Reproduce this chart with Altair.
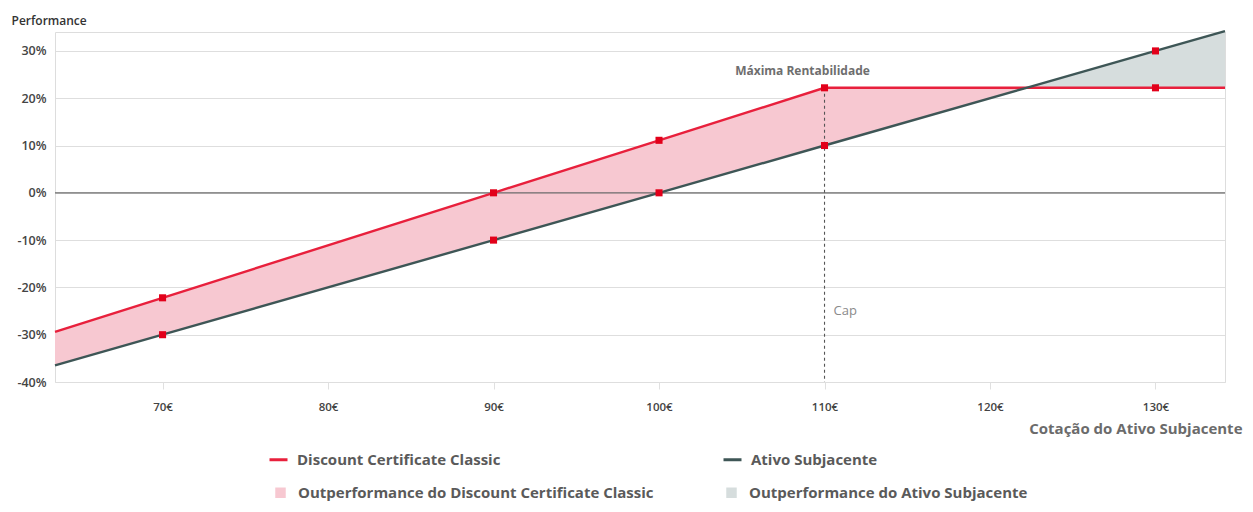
import altair as alt
import pandas as pd

# ---- data ----
price = [63.5, 70, 90, 100, 110, 122.2, 130, 134.2]
cert_perf = [-29.4, -22.2, 0.0, 11.1, 22.2, 22.2, 22.2, 22.2]
under_perf = [-36.5, -30.0, -10.0, 0.0, 10.0, 22.2, 30.0, 34.2]

marker_price = [70, 70, 90, 90, 100, 100, 110, 110, 130, 130]
marker_perf = [-22.2, -30.0, 0.0, -10.0, 11.1, 0.0, 22.2, 10.0, 22.2, 30.0]

cap_price = 110
cap_perf = 22.2
y_bottom = -40

x_ticks = [70, 80, 90, 100, 110, 120, 130]
y_ticks = [-40, -30, -20, -10, 0, 10, 20, 30]

line_names = ["Discount Certificate Classic", "Ativo Subjacente"]
area_names = ["Outperformance do Discount Certificate Classic",
              "Outperformance do Ativo Subjacente"]

RED = "#E8203C"
DARK = "#3E5656"
PINK = "#F7C8D1"
GREY = "#D6DDDD"
FONT = "Open Sans"

# ---- tables ----
cross = price.index(122.2)
area_rows = []
for i in range(0, cross + 1):
    area_rows.append({"price": price[i], "top": cert_perf[i], "bot": under_perf[i],
                      "zone": area_names[0]})
for i in range(cross, len(price)):
    area_rows.append({"price": price[i], "top": under_perf[i], "bot": cert_perf[i],
                      "zone": area_names[1]})
area_df = pd.DataFrame(area_rows)

line_rows = []
for p, c, u in zip(price, cert_perf, under_perf):
    line_rows.append({"price": p, "perf": c, "serie": line_names[0]})
    line_rows.append({"price": p, "perf": u, "serie": line_names[1]})
line_df = pd.DataFrame(line_rows)

marker_df = pd.DataFrame({"price": marker_price, "perf": marker_perf})

xs = alt.Scale(domain=[price[0], price[-1]], nice=False, zero=False)
ys = alt.Scale(domain=[y_bottom, 34], nice=False, zero=False)

x_axis = alt.Axis(values=x_ticks, labelExpr="datum.value + '€'", grid=False, domain=False,
                  ticks=True, tickColor="#E0E0E0", tickSize=7,
                  labelPadding=12, labelFontSize=11.5, labelColor="#444444",
                  labelFont=FONT, labelFontWeight=600,
                  title="Cotação do Ativo Subjacente", titleFont=FONT, titleFontSize=15,
                  titleFontWeight="bold", titleColor="#6B6B6B",
                  titleAnchor="end", titleAlign="right", titleX=1187, titleY=46,
                  titleBaseline="middle")
y_axis = alt.Axis(values=y_ticks, labelExpr="datum.value + '%'", grid=True,
                  gridColor="#DEDEDE", gridWidth=1.2, domain=False, ticks=False,
                  labelPadding=9, labelFontSize=12.5, labelColor="#444444",
                  labelFont=FONT, labelFontWeight=600,
                  title="Performance", titleAngle=0, titleFont=FONT, titleFontSize=12,
                  titleFontWeight=600, titleColor="#333333", titleAlign="left",
                  titleX=-44, titleY=-12, titleBaseline="middle")

areas = alt.Chart(area_df).mark_area(opacity=1, interpolate="linear").encode(
    x=alt.X("price:Q", scale=xs, axis=x_axis),
    y=alt.Y("top:Q", scale=ys, axis=y_axis),
    y2="bot:Q",
    fill=alt.Fill("zone:N", scale=alt.Scale(domain=area_names, range=[PINK, GREY]),
                  legend=alt.Legend(title=None, orient="none", legendX=218, legendY=453,
                                    columns=2, columnPadding=70, symbolType="square",
                                    symbolSize=110, symbolStrokeWidth=0,
                                    labelFont=FONT, labelFontSize=15,
                                    labelFontWeight="bold", labelColor="#5A5A5A",
                                    labelOffset=10, labelLimit=500, padding=0)),
    detail="zone:N",
)

zero_rule = alt.Chart(pd.DataFrame({"y": [0]})).mark_rule(color="#6B6B6B", strokeWidth=1.3).encode(
    y=alt.Y("y:Q", scale=ys)
)

cap_rule = alt.Chart(pd.DataFrame({"x": [cap_price], "y": [cap_perf], "y2": [y_bottom]})).mark_rule(
    color="#555555", strokeWidth=1.1, strokeDash=[3, 3]
).encode(x=alt.X("x:Q", scale=xs), y=alt.Y("y:Q", scale=ys), y2="y2:Q")

lines = alt.Chart(line_df).mark_line(strokeWidth=2.4).encode(
    x=alt.X("price:Q", scale=xs),
    y=alt.Y("perf:Q", scale=ys),
    stroke=alt.Stroke("serie:N", scale=alt.Scale(domain=line_names, range=[RED, DARK]),
                      legend=alt.Legend(title=None, orient="none", legendX=213, legendY=417,
                                        columns=2, columnPadding=216, symbolType="stroke",
                                        symbolSize=324, symbolStrokeWidth=3,
                                        labelFont=FONT, labelFontSize=15,
                                        labelFontWeight="bold", labelColor="#5A5A5A",
                                        labelOffset=8, labelLimit=500, padding=0)),
)

markers = alt.Chart(marker_df).mark_square(size=50, color="#E2001A", opacity=1).encode(
    x=alt.X("price:Q", scale=xs), y=alt.Y("perf:Q", scale=ys)
)

labels = pd.DataFrame({"x": [cap_price, cap_price], "y": [cap_perf, -25],
                       "t": ["Máxima Rentabilidade", "Cap"]})
max_text = alt.Chart(labels.iloc[[0]]).mark_text(
    font=FONT, fontSize=12, fontWeight="bold", color="#6E6E6E", align="center", dx=-22, dy=-17
).encode(x=alt.X("x:Q", scale=xs), y=alt.Y("y:Q", scale=ys), text="t:N")
cap_text = alt.Chart(labels.iloc[[1]]).mark_text(
    font=FONT, fontSize=13, color="#8A8A8A", align="left", dx=9
).encode(x=alt.X("x:Q", scale=xs), y=alt.Y("y:Q", scale=ys), text="t:N")

chart = alt.layer(areas, zero_rule, cap_rule, lines, markers, max_text, cap_text).resolve_scale(
    fill="independent", stroke="independent"
).properties(
    width=1170, height=350,
    autosize=alt.AutoSizeParams(type="none"),
    padding={"left": 47, "top": 24, "right": 18, "bottom": 122},
).configure_view(stroke=None).configure(background="white")

chart.save("out.html", embed_options={"renderer": "svg", "actions": False})
